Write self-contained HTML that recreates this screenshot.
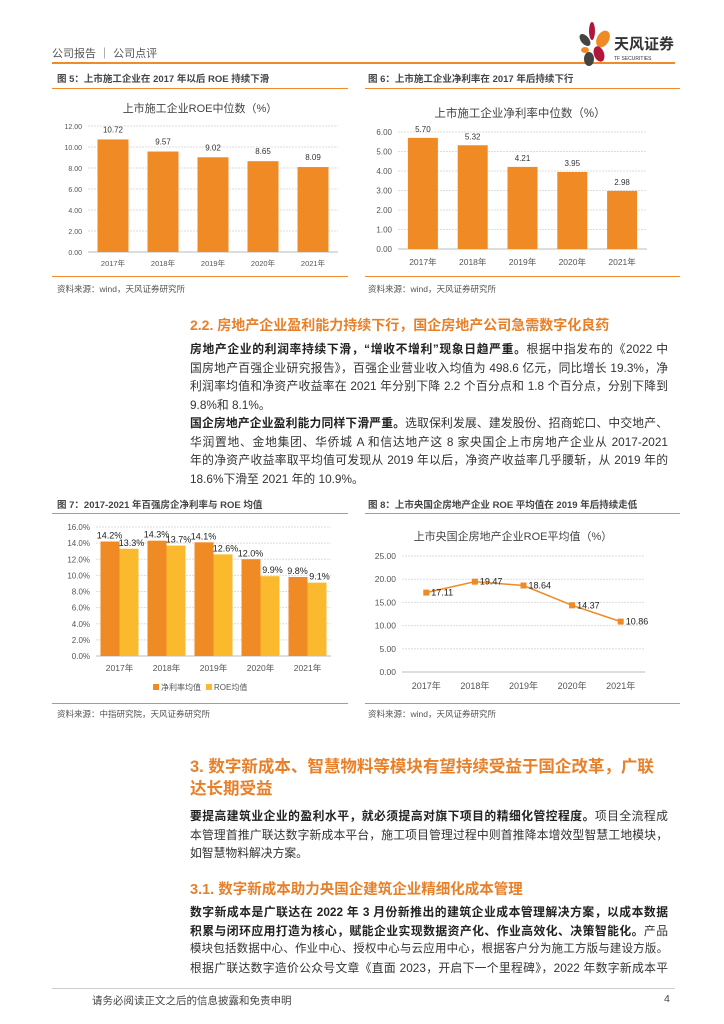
<!DOCTYPE html>
<html><head><meta charset="utf-8"><style>
body{margin:0;background:#fff;}
#page{position:relative;width:724px;height:1024px;overflow:hidden;font-family:"Liberation Sans","Noto Sans CJK SC",sans-serif;color:#222;}
.a{position:absolute;white-space:nowrap;}
.ln{position:absolute;background:#F08A2A;}
.p{position:absolute;left:190px;width:478px;font-size:11.8px;white-space:nowrap;text-align:justify;text-align-last:justify;color:#333;}
.p.l{text-align-last:left;}
.p b{font-weight:bold;color:#222;}
.ft{font-size:9.5px;font-weight:bold;color:#444;}
.src{font-size:8.5px;color:#555;}
.h{color:#E8802A;font-weight:bold;}
svg text{font-family:"Liberation Sans","Noto Sans CJK SC",sans-serif;}
</style></head><body>
<div id="page">
<div class="a" style="left:52px;top:45px;font-size:11px;color:#555;">公司报告 ｜ 公司点评</div>
<div class="ln" style="left:52px;top:62px;width:623px;height:2px;"></div>
<svg class="a" style="left:570px;top:18px" width="110" height="48">
<ellipse cx="15" cy="22" rx="4" ry="7" fill="#444" transform="rotate(-40 15 22)"/>
<ellipse cx="22" cy="13" rx="3" ry="9" fill="#B0173A"/>
<ellipse cx="33" cy="21" rx="6" ry="9" fill="#F08A24" transform="rotate(30 33 21)"/>
<ellipse cx="15" cy="32" rx="4" ry="3" fill="#F08A24"/>
<ellipse cx="19" cy="41" rx="5" ry="7" fill="#444"/>
<ellipse cx="29" cy="36" rx="5" ry="8" fill="#B0173A" transform="rotate(-20 29 36)"/>
<text x="44" y="31" font-size="15" font-weight="bold" fill="#333">天风证券</text>
<text x="44" y="42" font-size="5" fill="#333">TF SECURITIES</text>
</svg>

<div class="a ft" style="left:57px;top:71px">图 5：上市施工企业在 2017 年以后 ROE 持续下滑</div>
<div class="ln" style="left:52px;top:88px;width:296px;height:1px"></div>
<div class="a ft" style="left:368px;top:71px">图 6：上市施工企业净利率在 2017 年后持续下行</div>
<div class="ln" style="left:365px;top:88px;width:315px;height:1px"></div>
<svg class="a" id="c5" style="left:0;top:0" width="360" height="280"></svg>
<svg class="a" id="c6" style="left:360px;top:0" width="364" height="280"></svg>
<div class="ln" style="left:52px;top:276px;width:296px;height:1px"></div>
<div class="ln" style="left:365px;top:276px;width:315px;height:1px"></div>
<div class="a src" style="left:57px;top:283px">资料来源：wind，天风证券研究所</div>
<div class="a src" style="left:368px;top:283px">资料来源：wind，天风证券研究所</div>

<div class="a h" style="left:190px;top:315px;font-size:14px">2.2. 房地产企业盈利能力持续下行，国企房地产公司急需数字化良药</div>
<div class="p" style="top:340px"><b>房地产企业的利润率持续下滑，“增收不增利”现象日趋严重。</b>根据中指发布的《2022 中</div>
<div class="p" style="top:359px">国房地产百强企业研究报告》，百强企业营业收入均值为 498.6 亿元，同比增长 19.3%，净</div>
<div class="p" style="top:377px">利润率均值和净资产收益率在 2021 年分别下降 2.2 个百分点和 1.8 个百分点，分别下降到</div>
<div class="p l" style="top:396px">9.8%和 8.1%。</div>
<div class="p" style="top:414px"><b>国企房地产企业盈利能力同样下滑严重。</b>选取保利发展、建发股份、招商蛇口、中交地产、</div>
<div class="p" style="top:433px">华润置地、金地集团、华侨城 A 和信达地产这 8 家央国企上市房地产企业从 2017-2021</div>
<div class="p" style="top:451px">年的净资产收益率取平均值可发现从 2019 年以后，净资产收益率几乎腰斩，从 2019 年的</div>
<div class="p l" style="top:470px">18.6%下滑至 2021 年的 10.9%。</div>

<div class="a ft" style="left:57px;top:497px">图 7：2017-2021 年百强房企净利率与 ROE 均值</div>
<div class="ln" style="left:52px;top:513px;width:296px;height:1px"></div>
<div class="a ft" style="left:368px;top:497px">图 8：上市央国企房地产企业 ROE 平均值在 2019 年后持续走低</div>
<div class="ln" style="left:365px;top:513px;width:315px;height:1px"></div>
<svg class="a" id="c7" style="left:0;top:0" width="360" height="1024"></svg>
<svg class="a" id="c8" style="left:360px;top:0" width="364" height="1024"></svg>
<div class="ln" style="left:52px;top:703px;width:296px;height:1px"></div>
<div class="ln" style="left:365px;top:703px;width:315px;height:1px"></div>
<div class="a src" style="left:57px;top:708px">资料来源：中指研究院，天风证券研究所</div>
<div class="a src" style="left:368px;top:708px">资料来源：wind，天风证券研究所</div>

<div class="a h" style="left:190px;top:753px;font-size:16.5px">3. 数字新成本、智慧物料等模块有望持续受益于国企改革，广联</div>
<div class="a h" style="left:190px;top:775px;font-size:16.5px">达长期受益</div>
<div class="p" style="top:807px"><b>要提高建筑业企业的盈利水平，就必须提高对旗下项目的精细化管控程度。</b>项目全流程成</div>
<div class="p" style="top:826px">本管理首推广联达数字新成本平台，施工项目管理过程中则首推降本增效型智慧工地模块，</div>
<div class="p l" style="top:844px">如智慧物料解决方案。</div>
<div class="a h" style="left:190px;top:878px;font-size:14.5px">3.1. 数字新成本助力央国企建筑企业精细化成本管理</div>
<div class="p" style="top:903px"><b>数字新成本是广联达在 2022 年 3 月份新推出的建筑企业成本管理解决方案，以成本数据</b></div>
<div class="p" style="top:922px"><b>积累与闭环应用打造为核心，赋能企业实现数据资产化、作业高效化、决策智能化。</b>产品</div>
<div class="p" style="top:940px;font-size:11.4px">模块包括数据中心、作业中心、授权中心与云应用中心，根据客户分为施工方版与建设方版。</div>
<div class="p" style="top:959px">根据广联达数字造价公众号文章《直面 2023，开启下一个里程碑》，2022 年数字新成本平</div>

<div class="a" style="left:52px;top:988px;width:623px;height:1px;background:#ccc"></div>
<div class="a" style="left:92px;top:993px;font-size:10.5px;color:#444">请务必阅读正文之后的信息披露和免责申明</div>
<div class="a" style="left:664px;top:993px;font-size:10.5px;color:#444">4</div>
</div>
<script>
const years=["2017年","2018年","2019年","2020年","2021年"];
const roeMedian=[10.72,9.57,9.02,8.65,8.09];
const roeTicks=[0,2,4,6,8,10,12];
const marginMedian=[5.70,5.32,4.21,3.95,2.98];
const marginTicks=[0,1,2,3,4,5,6];
const top100Margin=[14.2,14.3,14.1,12.0,9.8];
const top100Roe=[13.3,13.7,12.6,9.9,9.1];
const pctTicks=[0,2,4,6,8,10,12,14,16];
const soeRoe=[17.11,19.47,18.64,14.37,10.86];
const soeTicks=[0,5,10,15,20,25];
const OR="#F08A24",YL="#FBBA2E",NS="http://www.w3.org/2000/svg";
function mk(svg,tag,at,txt){const e=document.createElementNS(NS,tag);for(const k in at)e.setAttribute(k,at[k]);if(txt!==undefined)e.textContent=txt;svg.appendChild(e);return e;}
function axes(svg,o){
 const y=v=>o.y0-(v-o.min)/(o.max-o.min)*(o.y0-o.y1);
 const bw=(o.x1-o.x0)/o.cats.length;const x=i=>o.x0+bw*(i+0.5);
 o.ticks.forEach(t=>{
  const g=mk(svg,'line',{x1:o.x0,x2:o.x1,y1:y(t),y2:y(t),stroke:t==o.min?'#bbb':'#ddd','stroke-dasharray':t==o.min?'':'2,1'});
  
  
  const l=mk(svg,'text',{x:o.x0-6,y:y(t)+3,'font-size':o.tf,'text-anchor':'end',fill:'#555'},o.fmt(t));
  
  
 });
 o.cats.forEach((c,i)=>{
  const l=mk(svg,'text',{x:x(i),y:o.xl,'font-size':o.tf+0.5,'text-anchor':'middle',fill:'#555'},c);
  
  
 });
 return {x,y,bw};
}
function title(svg,x,y,t,fs){const e=mk(svg,'text',{x,y,'font-size':fs,'text-anchor':'middle',fill:'#444'},t);
 
 }
(function(){const s=document.getElementById('c5');title(s,200,112,'上市施工企业ROE中位数（%）',11);
 const a=axes(s,{x0:88,x1:338,y0:252,y1:126,min:0,max:12,ticks:roeTicks,cats:years,xl:266,tf:7,fmt:v=>v.toFixed(2)});
 roeMedian.forEach((v,i)=>{const r=mk(s,'rect',{x:a.x(i)-15.5,y:a.y(v),width:31,height:a.y(0)-a.y(v),fill:OR});
  
  
  const t=mk(s,'text',{x:a.x(i),y:a.y(v)-7,'font-size':8,'text-anchor':'middle',fill:'#333'},v.toFixed(2));
  
  });})();
(function(){const s=document.getElementById('c6');title(s,160,117,'上市施工企业净利率中位数（%）',11.5);
 const a=axes(s,{x0:38,x1:287,y0:249,y1:132,min:0,max:6,ticks:marginTicks,cats:years,xl:265,tf:8,fmt:v=>v.toFixed(2)});
 marginMedian.forEach((v,i)=>{const r=mk(s,'rect',{x:a.x(i)-15,y:a.y(v),width:30,height:a.y(0)-a.y(v),fill:OR});
  
  
  const t=mk(s,'text',{x:a.x(i),y:a.y(v)-6,'font-size':8,'text-anchor':'middle',fill:'#333'},v.toFixed(2));
  
  });})();
(function(){const s=document.getElementById('c7');
 const a=axes(s,{x0:96,x1:331,y0:656,y1:527,min:0,max:16,ticks:pctTicks,cats:years,xl:671,tf:8,fmt:v=>v.toFixed(1)+'%'});
 years.forEach((c,i)=>{
  const r1=mk(s,'rect',{x:a.x(i)-19,y:a.y(top100Margin[i]),width:19,height:a.y(0)-a.y(top100Margin[i]),fill:OR});
  
  
  const r2=mk(s,'rect',{x:a.x(i),y:a.y(top100Roe[i]),width:19,height:a.y(0)-a.y(top100Roe[i]),fill:YL});
  
  
  const t1=mk(s,'text',{x:a.x(i)-10,y:a.y(top100Margin[i])-3,'font-size':9,'text-anchor':'middle',fill:'#222'},top100Margin[i].toFixed(1)+'%');
  
  
  const t2=mk(s,'text',{x:a.x(i)+12,y:a.y(top100Roe[i])-3,'font-size':9,'text-anchor':'middle',fill:'#222'},top100Roe[i].toFixed(1)+'%');
  
  });
 const lg=[[OR,'净利率均值',153],[YL,'ROE均值',206]];
 lg.forEach(d=>{const r=mk(s,'rect',{x:d[2],y:684,width:6,height:6,fill:d[0]});
  
  
  const t=mk(s,'text',{x:d[2]+8,y:690,'font-size':8,fill:'#555'},d[1]);
  
  });})();
(function(){const s=document.getElementById('c8');title(s,153,540,'上市央国企房地产企业ROE平均值（%）',11);
 const a=axes(s,{x0:42,x1:285,y0:672,y1:556,min:0,max:25,ticks:soeTicks,cats:years,xl:689,tf:8.5,fmt:v=>v.toFixed(2)});
 const pts=soeRoe.map((v,i)=>a.x(i)+','+a.y(v)).join(' ');
 const pl=mk(s,'polyline',{points:pts,fill:'none',stroke:OR,'stroke-width':1.5});
 
 
 soeRoe.forEach((v,i)=>{const m=mk(s,'rect',{x:a.x(i)-3,y:a.y(v)-3,width:6,height:6,fill:OR});
  
  
  const t=mk(s,'text',{x:a.x(i)+5,y:a.y(v)+3,'font-size':9,fill:'#222'},v.toFixed(2));
  
  });})();
</script>
</body></html>
